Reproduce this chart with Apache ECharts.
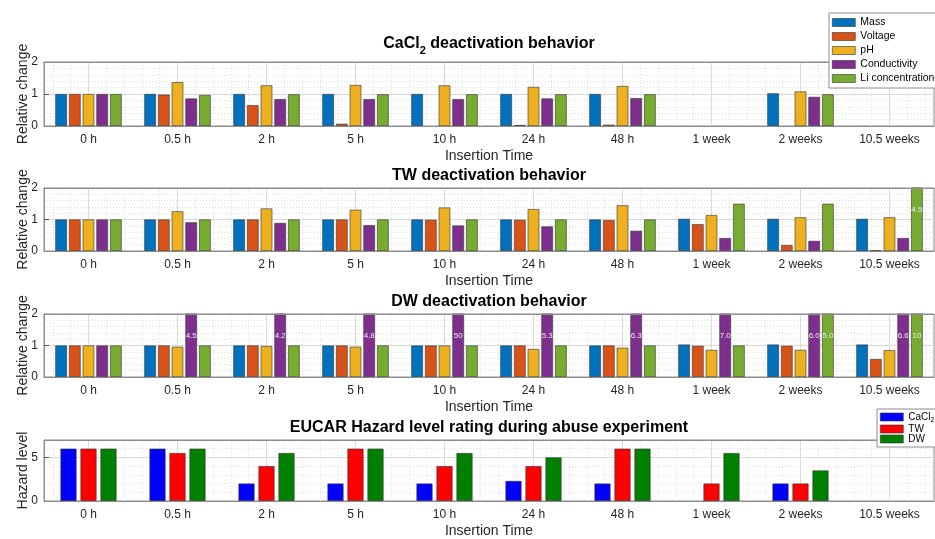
<!DOCTYPE html>
<html><head><meta charset="utf-8">
<script src="https://cdn.jsdelivr.net/npm/echarts@6/dist/echarts.min.js"></script>
<style>html,body{margin:0;padding:0;background:#fff}#c{width:935px;height:539px}</style>
</head><body><div id="c"></div>
<script>
// ---------- data ----------
const categories = ['0 h','0.5 h','2 h','5 h','10 h','24 h','48 h','1 week','2 weeks','10.5 weeks'];
const propertyNames = ['Mass','Voltage','pH','Conductivity','Li concentration'];

const cacl2Mass    = [1, 1, 1, 1, 1, 1, 1, null, 1.02, null];
const cacl2Voltage = [1, 0.98, 0.65, 0.07, null, 0.03, 0.04, null, null, null];
const cacl2PH      = [1, 1.37, 1.27, 1.28, 1.27, 1.22, 1.25, null, 1.08, null];
const cacl2Cond    = [1, 0.86, 0.84, 0.84, 0.84, 0.86, 0.87, null, 0.91, null];
const cacl2Li      = [1, 0.97, 0.99, 0.99, 0.99, 0.99, 0.99, null, 0.99, null];

const twMass    = [1, 1, 1, 1, 1, 1, 1, 1.02, 1.02, 1.02];
const twVoltage = [1, 1, 1, 1, 0.99, 0.99, 0.98, 0.85, 0.19, 0.02];
const twPH      = [1, 1.26, 1.35, 1.31, 1.38, 1.33, 1.45, 1.14, 1.07, 1.07];
const twCond    = [1, 0.91, 0.89, 0.82, 0.81, 0.78, 0.64, 0.41, 0.32, 0.41];
const twLi      = [1, 1, 1, 1, 1, 1, 1, 1.5, 1.5, 4.5];

const dwMass    = [1, 1, 1, 1, 1, 1, 1, 1.03, 1.03, 1.03];
const dwVoltage = [1, 1, 1, 1, 1, 1, 1, 0.99, 0.99, 0.57];
const dwPH      = [1, 0.96, 0.98, 0.96, 1, 0.89, 0.93, 0.86, 0.86, 0.85];
const dwCond    = [1, 4.5, 4.2, 4.8, 50, 5.3, 6.3, 7.0, 6.0, 6.6];
const dwLi      = [1, 1, 1, 1, 1, 1, 1, 1, 5.0, 10];

const hazardNames  = ['CaCl2', 'TW', 'DW'];
const hazardCaCl2  = [6, 6, 2, 2, 2, 2.3, 2, null, 2, null];
const hazardTW     = [6, 5.5, 4, 6, 4, 4, 6, 2, 2, null];
const hazardDW     = [6, 6, 5.5, 6, 5.5, 5, 6, 5.5, 3.5, null];

const relTicks = [0, 1, 2];
const hazardTicks = [0, 5];

// ---------- style ----------
const FONT = '"Liberation Sans", Arial, Helvetica, sans-serif';
const TXT = '#262626';
const propColors = ['#0072BD', '#D95319', '#EDB120', '#7E2F8E', '#77AC30'];
const hazardColors = ['#0000FF', '#FF0000', '#008000'];
const panels = [
  {top: 62, height: 64, title: '{b|CaCl}{s|2}{b| deactivation behavior}', titleTop: 32},
  {top: 188, height: 63, title: '{b|TW deactivation behavior}', titleTop: 164},
  {top: 314, height: 63, title: '{b|DW deactivation behavior}', titleTop: 290},
  {top: 440, height: 63, title: '{b|EUCAR Hazard level rating during abuse experiment}', titleTop: 416}
];
const fine = Array.from({length: 101}, (_, i) => 'f' + i);

const option = {
  animation: false,
  backgroundColor: '#fff',
  textStyle: {fontFamily: FONT},
  title: panels.map(p => ({
    text: p.title, left: 489, top: p.titleTop, textAlign: 'center', padding: 0,
    textStyle: {
      fontFamily: FONT, fontSize: 16, fontWeight: 'bold', color: '#000', lineHeight: 24,
      rich: {
        b: {fontFamily: FONT, fontSize: 16, fontWeight: 'bold', color: '#000', lineHeight: 24},
        s: {fontFamily: FONT, fontSize: 11, fontWeight: 'bold', color: '#000', lineHeight: 8, verticalAlign: 'bottom'}
      }
    }
  })),
  legend: [
    {
      data: propertyNames, orient: 'vertical', left: 829, top: 13, padding: 3,
      itemWidth: 23, itemHeight: 8, itemGap: 1, icon: 'rect',
      backgroundColor: '#fff', borderColor: '#8c8c8c', borderWidth: 1, borderRadius: 0,
      itemStyle: {borderColor: '#333', borderWidth: 0.6},
      textStyle: {fontFamily: FONT, fontSize: 10.5, color: '#000', lineHeight: 13},
      selectedMode: false, z: 10
    },
    {
      data: hazardNames, orient: 'vertical', left: 877, top: 409, padding: 3,
      itemWidth: 23, itemHeight: 8, itemGap: 0, icon: 'rect',
      backgroundColor: '#fff', borderColor: '#8c8c8c', borderWidth: 1, borderRadius: 0,
      itemStyle: {borderColor: '#333', borderWidth: 0.6},
      formatter: n => n === 'CaCl2' ? '{n|CaCl}{s|2}' : '{n|' + n + '}',
      textStyle: {
        fontFamily: FONT, fontSize: 10, color: '#000',
        rich: {
          n: {fontFamily: FONT, fontSize: 10, color: '#000', lineHeight: 14},
          s: {fontFamily: FONT, fontSize: 7, color: '#000', lineHeight: 6, verticalAlign: 'bottom'}
        }
      },
      selectedMode: false, z: 10
    }
  ],
  grid: panels.map(p => ({
    left: 44, right: 1, top: p.top, height: p.height, show: true,
    backgroundColor: '#fff', borderColor: '#8c8c8c', borderWidth: 1
  })),
  xAxis: [],
  yAxis: [],
  series: []
};

panels.forEach((p, g) => {
  option.xAxis.push({
    gridIndex: g, type: 'category', data: categories, position: 'bottom', z: 5,
    axisLine: {lineStyle: {color: '#8c8c8c', width: 1}},
    axisTick: {inside: true, length: 5, alignWithLabel: true, lineStyle: {color: '#555'}},
    axisLabel: {fontFamily: FONT, fontSize: 12, color: TXT, margin: 8},
    splitLine: {show: false},
    name: 'Insertion Time', nameLocation: 'middle', nameGap: 23,
    nameTextStyle: {fontFamily: FONT, fontSize: 14, color: TXT}
  });
  option.xAxis.push({
    gridIndex: g, type: 'category', data: categories, position: 'top', z: 5,
    axisLine: {lineStyle: {color: '#8c8c8c', width: 1}},
    axisTick: {inside: true, length: 5, alignWithLabel: true, lineStyle: {color: '#555'}},
    axisLabel: {show: false}, splitLine: {show: false}
  });
  option.xAxis.push({
    gridIndex: g, type: 'category', data: fine, boundaryGap: false, position: 'bottom',
    axisLine: {show: false}, axisTick: {show: false}, axisLabel: {show: false},
    splitLine: {show: true, interval: (i) => i % 10 === 5, lineStyle: {color: '#dadada', width: 1}}
  });
  option.xAxis.push({
    gridIndex: g, type: 'category', data: fine, boundaryGap: false, position: 'bottom',
    axisLine: {show: false}, axisTick: {show: false}, axisLabel: {show: false},
    splitLine: {show: true, interval: (i) => i % 2 === 1 && i % 10 !== 5, lineStyle: {color: '#e2e2e2', width: 1, type: [1, 2]}}
  });
  const isHaz = g === 3;
  const ticks = isHaz ? hazardTicks : relTicks;
  option.yAxis.push({
    gridIndex: g, type: 'value', min: 0, max: isHaz ? 7 : ticks[ticks.length - 1],
    interval: ticks[1] - ticks[0],
    axisLine: {show: true, lineStyle: {color: '#8c8c8c'}},
    axisTick: {show: true, inside: true, length: 5, lineStyle: {color: '#555'}},
    axisLabel: {fontFamily: FONT, fontSize: 12, color: TXT, margin: 6, showMaxLabel: !isHaz},
    splitLine: {show: true, lineStyle: {color: '#dadada', width: 1}},
    minorTick: {show: false, splitNumber: 5},
    minorSplitLine: {show: true, lineStyle: {color: '#e2e2e2', width: 1, type: [1, 2]}},
    name: isHaz ? 'Hazard level' : 'Relative change', nameLocation: 'middle', nameGap: 14,
    nameMoveOverlap: false,
    nameTextStyle: {fontFamily: FONT, fontSize: 14, color: TXT}
  });
});

const fmt = v => v >= 10 ? String(v) : v.toFixed(1);
const overLabel = {
  show: true, position: 'insideTop', offset: [0, 13], fontFamily: FONT, fontSize: 8, color: '#eee',
  formatter: p => (p.value != null && p.value > 2) ? fmt(p.value) : ''
};
const relSets = [
  [cacl2Mass, cacl2Voltage, cacl2PH, cacl2Cond, cacl2Li],
  [twMass, twVoltage, twPH, twCond, twLi],
  [dwMass, dwVoltage, dwPH, dwCond, dwLi]
];
relSets.forEach((set, g) => {
  set.forEach((arr, k) => {
    option.series.push({
      type: 'bar', name: propertyNames[k], xAxisIndex: g * 4, yAxisIndex: g,
      data: arr, barWidth: 11.6, barGap: '18%',
      itemStyle: {color: propColors[k], borderColor: '#333', borderWidth: 0.6},
      label: overLabel, emphasis: {disabled: true}
    });
  });
});
[hazardCaCl2, hazardTW, hazardDW].forEach((arr, k) => {
  option.series.push({
    type: 'bar', name: hazardNames[k], xAxisIndex: 12, yAxisIndex: 3,
    data: arr, barWidth: 16, barGap: '25%',
    itemStyle: {color: hazardColors[k], borderColor: '#333', borderWidth: 0.6},
    emphasis: {disabled: true}
  });
});

const chart = echarts.init(document.getElementById('c'), null, {renderer: 'canvas'});
chart.setOption(option);
</script>
</body></html>
